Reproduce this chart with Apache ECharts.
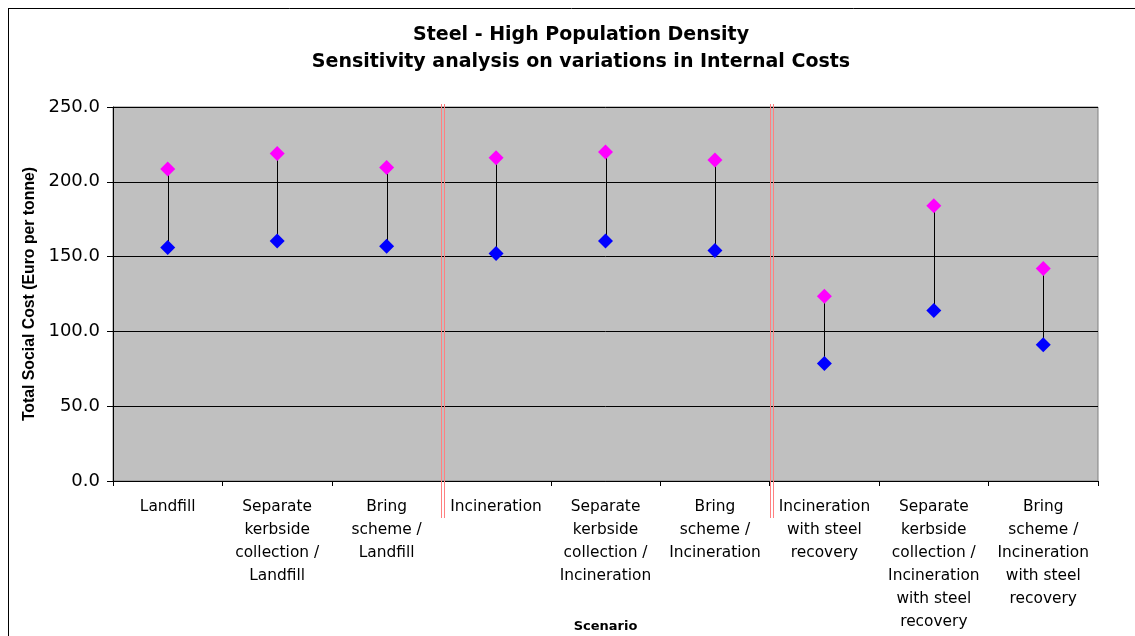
<!DOCTYPE html>
<html>
<head>
<meta charset="utf-8">
<script src="https://cdn.jsdelivr.net/npm/echarts@6/dist/echarts.min.js"></script>
<style>
  html, body { margin: 0; padding: 0; background: #ffffff; }
  #chart { width: 1135px; height: 636px; }
</style>
</head>
<body>
<div id="chart"></div>
<script>
// Scenario names (tick labels, wrapped as printed under the axis)
const scenarios = [
  'Landfill',
  'Separate\nkerbside\ncollection /\nLandfill',
  'Bring\nscheme /\nLandfill',
  'Incineration',
  'Separate\nkerbside\ncollection /\nIncineration',
  'Bring\nscheme /\nIncineration',
  'Incineration\nwith steel\nrecovery',
  'Separate\nkerbside\ncollection /\nIncineration\nwith steel\nrecovery',
  'Bring\nscheme /\nIncineration\nwith steel\nrecovery'
];
// Total social cost (Euro per tonne) with high and low internal costs
const highCost = [208.5, 219, 209.5, 216, 220, 214.5, 123.5, 184, 142];
const lowCost  = [156, 160.5, 157, 152, 160.5, 154, 78.5, 114, 91];
// Group separators: drawn before these category indices
const dividers = [3, 6];
const yTicks = [0, 50, 100, 150, 200, 250];

const chart = echarts.init(document.getElementById('chart'), null, { renderer: 'canvas' });

const option = {
  backgroundColor: '#ffffff',
  animation: false,
  title: {
    text: 'Steel - High Population Density\nSensitivity analysis on variations in Internal Costs',
    left: 576,
    textAlign: 'center',
    top: 17,
    textStyle: {
      fontFamily: 'DejaVu Sans',
      fontWeight: 'bold',
      fontSize: 19,
      lineHeight: 27,
      color: '#000'
    }
  },
  grid: {
    left: 113, right: 37, top: 107, bottom: 155,
    outerBoundsMode: 'none',
    containLabel: false,
    show: true,
    backgroundColor: '#c0c0c0',
    borderColor: '#808080',
    borderWidth: 1
  },
  xAxis: {
    type: 'category',
    data: scenarios,
    boundaryGap: true,
    name: 'Scenario',
    nameLocation: 'middle',
    nameGap: 139,
    nameMoveOverlap: false,
    nameTextStyle: {
      fontFamily: 'DejaVu Sans', fontWeight: 'bold', fontSize: 13, color: '#000'
    },
    axisLine: { lineStyle: { color: '#000', width: 1 } },
    axisTick: { show: true, length: 5, lineStyle: { color: '#000' } },
    axisLabel: {
      interval: 0,
      margin: 14,
      fontFamily: 'DejaVu Sans',
      fontSize: 15.4,
      lineHeight: 23,
      color: '#000',
      verticalAlign: 'top'
    },
    splitLine: { show: false }
  },
  yAxis: {
    type: 'value',
    min: yTicks[0],
    max: yTicks[yTicks.length - 1],
    interval: 50,
    name: 'Total Social Cost (Euro per tonne)',
    nameLocation: 'middle',
    nameRotate: 90,
    nameGap: 75,
    nameMoveOverlap: false,
    nameTextStyle: {
      fontFamily: 'Liberation Sans', fontWeight: 'bold', fontSize: 15.8, color: '#000'
    },
    axisLine: { show: true, lineStyle: { color: '#000', width: 1 } },
    axisTick: { show: true, length: 6, lineStyle: { color: '#000' } },
    axisLabel: {
      margin: 13,
      fontFamily: 'DejaVu Sans',
      fontSize: 18,
      color: '#000',
      formatter: v => v.toFixed(1)
    },
    splitLine: { show: true, lineStyle: { color: '#000', width: 1 } }
  },
  series: [
    {
      // vertical high-low connectors
      type: 'custom',
      z: 2,
      data: highCost.map((h, i) => [i, h, lowCost[i]]),
      renderItem: (params, api) => {
        const top = api.coord([api.value(0), api.value(1)]);
        const bot = api.coord([api.value(0), api.value(2)]);
        const x = Math.round(top[0]) + 0.5;
        return {
          type: 'line',
          shape: { x1: x, y1: top[1], x2: x, y2: bot[1] },
          style: { stroke: '#000', lineWidth: 1 }
        };
      }
    },
    {
      // double red separators between scenario groups
      type: 'custom',
      z: 5,
      clip: false,
      data: dividers.map(d => [d]),
      renderItem: (params, api) => {
        const c = api.coord([api.value(0), 0]);
        const w = api.size([1, 0])[0];
        const bx = Math.round(c[0] - w / 2);
        return {
          type: 'group',
          children: [
            { type: 'line', shape: { x1: bx + 0.5, y1: 104, x2: bx + 0.5, y2: 518 },
              style: { stroke: '#ff8080', lineWidth: 1 } },
            { type: 'line', shape: { x1: bx + 3.5, y1: 104, x2: bx + 3.5, y2: 518 },
              style: { stroke: '#ff8080', lineWidth: 1 } }
          ]
        };
      }
    },
    {
      name: 'High',
      type: 'scatter',
      z: 3,
      data: highCost,
      symbol: 'diamond',
      symbolSize: 15,
      itemStyle: { color: '#ff00ff', opacity: 1 }
    },
    {
      name: 'Low',
      type: 'scatter',
      z: 3,
      data: lowCost,
      symbol: 'diamond',
      symbolSize: 15,
      itemStyle: { color: '#0000ff', opacity: 1 }
    }
  ],
  graphic: [
    // outer frame of the figure
    { type: 'line', shape: { x1: 8, y1: 8.5, x2: 1135, y2: 8.5 }, style: { stroke: '#000', lineWidth: 1 } },
    { type: 'line', shape: { x1: 8.5, y1: 8, x2: 8.5, y2: 636 }, style: { stroke: '#000', lineWidth: 1 } }
  ]
};

chart.setOption(option);
</script>
</body>
</html>
